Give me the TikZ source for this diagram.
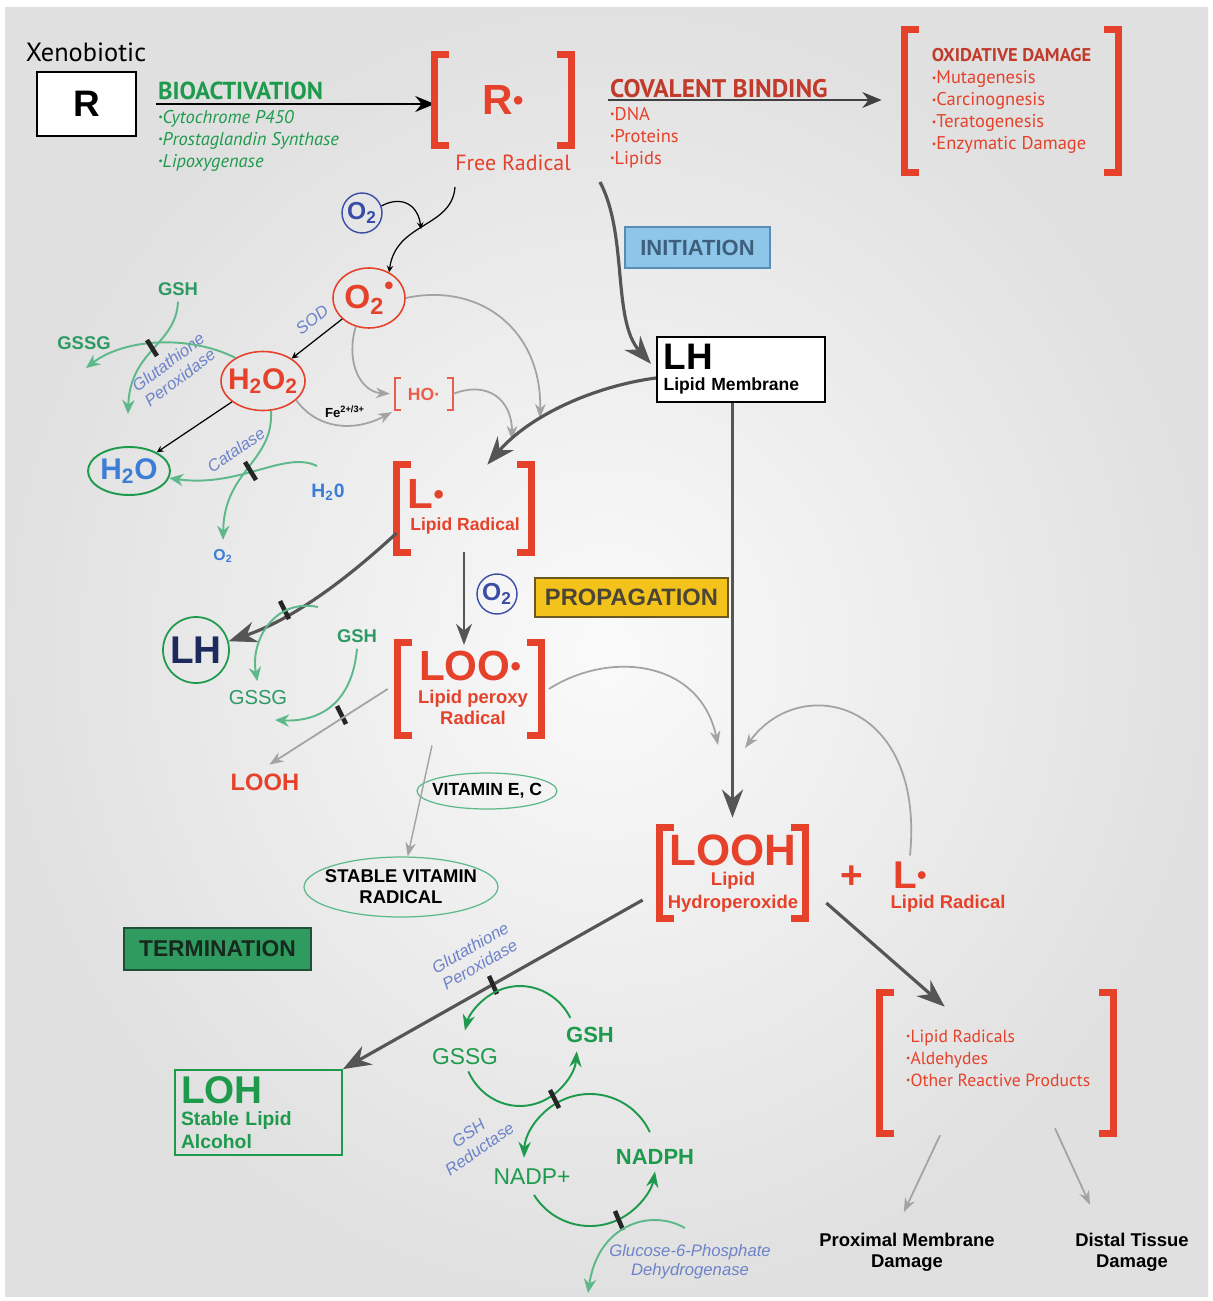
\documentclass[tikz,border=0pt]{standalone}
\usepackage{fontspec}
\usepackage{graphicx}
\setmainfont{Liberation Sans}
\newfontfamily\myr{PT Sans}
\usetikzlibrary{arrows.meta,shapes.geometric,calc}
\definecolor{redc}{HTML}{E5412B}
\definecolor{dredc}{HTML}{C23A2A}
\definecolor{grnc}{HTML}{1E9A4C}
\definecolor{midg}{HTML}{2E9A63}
\definecolor{lgrnc}{HTML}{5DB98A}
\definecolor{bluec}{HTML}{6D83C9}
\definecolor{navyc}{HTML}{3A4CA6}
\definecolor{navyd}{HTML}{1C2A5E}
\definecolor{skyc}{HTML}{3C7DD8}
\definecolor{dgray}{HTML}{555555}
\definecolor{lgray}{HTML}{A3A3A3}
\definecolor{inifill}{HTML}{8EC6EA}
\definecolor{inidraw}{HTML}{5A8DB5}
\definecolor{initext}{HTML}{3E5F7C}
\definecolor{propfill}{HTML}{F3C31C}
\definecolor{propdraw}{HTML}{6B5A20}
\definecolor{proptext}{HTML}{4A4536}
\definecolor{termfill}{HTML}{2F9B5F}
\definecolor{termdraw}{HTML}{1F4F34}
\definecolor{termtext}{HTML}{17291F}
\newcommand\fsz[2]{\fontsize{#1}{#2}\selectfont}
\newcommand\bul{\raisebox{0.25ex}{\scalebox{0.55}{•}}}
\newcommand\rdot{\raisebox{0.2ex}{\scalebox{0.7}{•}}}
% square brackets round a named node
\newcommand\brkt[2][0.28cm]{%
  \draw[brkline] ([xshift=#1]#2.north west) -- (#2.north west) -- (#2.south west) -- ([xshift=#1]#2.south west);
  \draw[brkline] ([xshift=-#1]#2.north east) -- (#2.north east) -- (#2.south east) -- ([xshift=-#1]#2.south east);}
\begin{document}
\begin{tikzpicture}[x=0.02cm,y=-0.02cm,>=stealth,
  brkline/.style={redc,line width=3.8pt},
  brk/.style={inner sep=0pt},
  ell/.style={ellipse,inner sep=0pt},
  enz/.style={bluec,font=\itshape\fsz{9.5}{11},align=center,inner sep=1pt},
  gtxt/.style={midg,font=\bfseries\fsz{10.5}{12}},
  thinarr/.style={->,line width=0.7pt},
  medarr/.style={-{Stealth[length=11pt,width=9pt]},line width=1pt},
  grayarr/.style={-{Stealth[length=8pt,width=6pt]},lgray,line width=1pt},
  bigarr/.style={-{Stealth[length=16pt,width=12pt]},dgray,line width=1.8pt},
  garr/.style={-{Stealth[length=8pt,width=7pt]},lgrnc,line width=1.1pt},
  cyc/.style={-{Stealth[length=9pt,width=7pt]},grnc,line width=1.1pt},
  bar/.style={line width=2.6pt,black!85},
  o2c/.style={circle,draw=navyc,line width=0.8pt,minimum size=0.8cm,inner sep=0pt,navyc,font=\bfseries\fsz{14}{14}}]
\useasboundingbox (0,0) rectangle (1213,1301);
\fill[white] (0,0) rectangle (1213,1301);
\shade[inner color=white!98!black,outer color=black!12] (5,8) rectangle (1208,1296);

% bioactivation
\node[font=\myr\fsz{15}{18}] (xeno) at (86,52) {Xenobiotic};
\node[draw,line width=1.3pt,fill=white,minimum width=1.98cm,minimum height=1.28cm,font=\bfseries\fsz{21}{24}] (R) at (86.5,104) {R};
\node[brk,minimum width=2.72cm,minimum height=1.8cm,redc,font=\bfseries\fsz{24}{28}] (Rrad) at (503,100) {R\rdot};
\node[redc,font=\myr\fsz{12.5}{15}] (frad) at (513,163) {Free Radical};
\node[anchor=south west,grnc,font=\myr\bfseries\fsz{14}{16},inner sep=1pt] (bio) at (156,102) {BIOACTIVATION};
\node[anchor=north west,grnc,font=\myr\itshape\fsz{10.5}{12.5},align=left,inner sep=1pt] (bioL) at (156,108) {\bul Cytochrome P450\\\bul Prostaglandin Synthase\\\bul Lipoxygenase};
\draw[medarr,shorten >=0.38cm] ([xshift=0.38cm]R.east) -- ([xshift=0.38cm]R.east -| Rrad.west);
\brkt{Rrad}

% covalent binding
\node[anchor=south west,dredc,font=\myr\bfseries\fsz{14.5}{16},inner sep=1pt] (cov) at (608,100) {COVALENT BINDING};
\node[anchor=north west,redc,font=\myr\fsz{10.5}{12.5},align=left,inner sep=1pt] (covL) at (608,105) {\bul DNA\\\bul Proteins\\\bul Lipids};
\node[brk,minimum width=4.26cm,minimum height=2.84cm,redc,font=\myr\fsz{10.5}{12.5},align=left] (OxD) at (1011.5,101) {{\bfseries\color{dredc}OXIDATIVE DAMAGE}\\\bul Mutagenesis\\\bul Carcinognesis\\\bul Teratogenesis\\\bul Enzymatic Damage};
\draw[medarr,draw=black!75,shorten >=0.46cm] (cov.south west) -- (cov.south west -| OxD.west);
\brkt{OxD}

% oxygen branch
\node[o2c] (O2a) at (362,213) {O\textsubscript{2}};
\node[ell,draw=redc,line width=0.9pt,minimum width=1.44cm,minimum height=1.2cm,label={[redc,font=\bfseries\fsz{19}{19}]center:O\textsubscript{2}\raisebox{0.8ex}{\fsz{15}{15}•}}] (O2r) at (369,298) {};
\coordinate (spS) at (455,187);
\coordinate (jn) at (421,229);
\draw[thinarr] (spS) .. controls (452,228) and (396,222) .. (O2r.52);
\draw[thinarr] (O2a.20) .. controls (402,195) and (418,205) .. (jn);
\node[enz,rotate=38] (sod) at (312,320) {SOD};
\node[ell,draw=redc,line width=0.9pt,minimum width=1.68cm,minimum height=1.18cm,label={[redc,font=\bfseries\fsz{17}{17}]center:H\textsubscript{2}O\textsubscript{2}}] (H2O2) at (263,381) {};
\draw[thinarr] (O2r) -- (H2O2);
\node[gtxt] (GSH1) at (178,289) {GSH};
\node[gtxt] (GSSG1) at (84,343) {GSSG};
\node[enz,rotate=37] (gpx1) at (174,370) {Glutathione\\Peroxidase};
\coordinate (gpxA) at (86,368);
\coordinate (gpxB) at (128,414);
\draw[garr] (H2O2.140) .. controls (190,335) and (125,338) .. (gpxA);
\draw[garr] (GSH1.south) .. controls (176,345) and (130,350) .. (gpxB);
\draw[bar] (147,340) -- (157,356);
\node[ell,draw=grnc,line width=1.1pt,minimum width=1.64cm,minimum height=0.96cm,label={[skyc,font=\bfseries\fsz{17}{17}]center:H\textsubscript{2}O}] (H2O) at (129,471) {};
\draw[thinarr] (H2O2) -- (H2O);
\node[enz,rotate=35] (cat) at (236,450) {Catalase};
\node[skyc,font=\bfseries\fsz{9}{10}] (O2b) at (223,556) {O\textsubscript{2}};
\node[skyc,font=\bfseries\fsz{11}{13}] (wtr) at (328,492) {H\textsubscript{2}0};
\coordinate (wtrS) at (317,466);
\draw[garr,shorten >=2pt] (H2O2.-75) .. controls (274,462) and (224,470) .. (O2b.north);
\draw[garr] (wtrS) .. controls (285,450) and (240,488) .. (H2O.-10);
\draw[bar] (245,462) -- (256,480);
\node[font=\bfseries\fsz{7.5}{9}] (fe) at (345,412) {Fe\textsuperscript{2+/3+}};
\node[brk,minimum width=1.14cm,minimum height=0.64cm,redc!85,font=\bfseries\fsz{10}{12}] (HO) at (424,394) {HO·};
\begin{scope}[brkline/.style={redc!85,line width=1.3pt}]
\brkt[0.12cm]{HO}
\end{scope}
\draw[grayarr,shorten >=2pt] (H2O2.-30) .. controls (318,430) and (355,432) .. (HO.south west);
\draw[grayarr,shorten >=3pt] (O2r.-115) .. controls (345,365) and (362,392) .. (HO.west);
\coordinate (lA) at (540,418);
\coordinate (lB) at (512,440);
\draw[grayarr] (O2r.east) .. controls (480,282) and (542,330) .. (lA);
\draw[grayarr] (HO.east) .. controls (488,380) and (512,400) .. (lB);

% initiation
\coordinate (iniS) at (600,182);
\node[draw=inidraw,fill=inifill,line width=0.8pt,minimum width=2.9cm,minimum height=0.82cm,text=initext,font=\bfseries\fsz{12.5}{14}] (init) at (697.5,247.5) {INITIATION};
\node[draw,line width=1.2pt,fill=white,text width=3.1cm,inner xsep=0.13cm,minimum height=1.3cm,align=left,font=\bfseries\fsz{10}{12}] (LH) at (741,369.5) {{\fsz{21}{21}LH}\\Lipid Membrane};
\draw[bigarr,shorten >=0.15cm] (iniS) .. controls (628,235) and (612,320) .. (LH.west);

% propagation
\node[brk,minimum width=2.68cm,minimum height=1.74cm] (Lrad) at (464,508.5) {};
\node[redc,font=\bfseries\fsz{24}{24}] (Lt) at (426,494) {L\rdot};
\node[redc,font=\bfseries\fsz{10}{12}] (Ls) at (465,526) {Lipid Radical};
\brkt{Lrad}
\draw[bigarr] ([yshift=-0.17cm]LH.west) .. controls (595,386) and (530,415) .. (Lrad.62);
\node[o2c] (O2c) at (497,594) {O\textsubscript{2}};
\node[draw=propdraw,fill=propfill,line width=0.8pt,minimum width=3.86cm,minimum height=0.78cm,text=proptext,font=\bfseries\fsz{13.5}{15}] (prop) at (631.5,597.5) {PROPAGATION};
\node[brk,minimum width=2.86cm,minimum height=1.84cm] (LOOr) at (469.5,689) {};
\node[redc,font=\bfseries\fsz{24}{24}] (LOOt) at (470,666) {LOO\rdot};
\node[redc,font=\bfseries\fsz{10.5}{12},align=center] (LOOs) at (473,707) {Lipid peroxy\\Radical};
\brkt{LOOr}
\draw[-{Stealth[length=12pt,width=9pt]},dgray,line width=1.3pt] (Lrad.south) -- (Lrad.south |- LOOt.north);

% termination by glutathione
\node[circle,draw=grnc,line width=1pt,minimum size=1.32cm,label={[navyd,font=\bfseries\fsz{22}{22}]center:LH}] (LHc) at (196,650) {};
\draw[bigarr] (Lrad.-160) .. controls (335,590) and (285,622) .. (LHc.15);
\draw[bar] (280,601) -- (289,619);
\node[gtxt] (GSH2) at (357,636) {GSH};
\node[midg,font=\fsz{11.5}{13}] (GSSG2) at (258,698) {GSSG};
\coordinate (gS2) at (318,607);
\coordinate (gT2) at (275,720);
\draw[garr,shorten >=2pt] (gS2) .. controls (275,598) and (250,640) .. (GSSG2.north);
\draw[garr] (GSH2.south) .. controls (352,705) and (318,722) .. (gT2);
\draw[bar] (337,706) -- (346,724);
\node[redc,font=\bfseries\fsz{13.5}{15}] (LOOH2) at (265,782) {LOOH};
\draw[grayarr,shorten >=3pt] ([xshift=-0.2cm]LOOr.west) -- (LOOH2.north);

% vitamins
\node[ell,draw=lgrnc,line width=0.7pt,minimum width=2.8cm,minimum height=0.72cm,label={[font=\bfseries\fsz{10}{12}]center:{VITAMIN E, C}}] (VitEC) at (487,791) {};
\node[ell,draw=lgrnc,line width=0.7pt,minimum width=3.88cm,minimum height=1.2cm,label={[font=\bfseries\fsz{10.5}{12},align=center]center:{STABLE VITAMIN\\RADICAL}}] (SVR) at (401,887) {};
\draw[grayarr,line width=0.8pt] ([xshift=-0.75cm,yshift=-0.2cm]LOOr.south) -- (SVR);
\node[draw=termdraw,fill=termfill,line width=1pt,minimum width=3.74cm,minimum height=0.84cm,text=termtext,font=\bfseries\fsz{13}{15}] (term) at (217.5,949) {TERMINATION};

% hydroperoxide
\node[brk,minimum width=2.9cm,minimum height=1.8cm] (LOOHb) at (732.5,873) {};
\node[redc,font=\bfseries\fsz{25}{25}] (LOOHt) at (733,850) {LOOH};
\node[redc,font=\bfseries\fsz{10.5}{13},align=center] (LOOHs) at (733,892) {Lipid\\Hydroperoxide};
\brkt{LOOHb}
\draw[bigarr,shorten >=0.2cm] (LH.south -| LOOHb.north) -- (LOOHb.north);
\node[redc,font=\bfseries\fsz{22}{22}] (plus) at (852,877) {+};
\node[redc,font=\bfseries\fsz{22}{22}] (Lr2) at (910,875) {L\rdot};
\node[redc,font=\bfseries\fsz{10.5}{12}] (Lr2s) at (948,904) {Lipid Radical};
\coordinate (prA) at (718,745);
\coordinate (prB) at (745,748);
\draw[grayarr] ([xshift=0.15cm]LOOr.east) .. controls (610,650) and (700,660) .. (prA);
\draw[grayarr] (Lr2.north) .. controls (925,700) and (800,672) .. (prB);

% products and damage
\node[brk,minimum width=4.66cm,minimum height=2.8cm] (Prod) at (996.5,1063) {};
\node[redc,anchor=west,font=\myr\fsz{10}{12.5},align=left] (ProdL) at (900,1058) {\bul Lipid Radicals\\\bul Aldehydes\\\bul Other Reactive Products};
\brkt{Prod}
\draw[bigarr] ([xshift=0.42cm,yshift=-0.6cm]LOOHb.east) -- ([xshift=1.3cm,yshift=-0.28cm]Prod.north west);
\node[font=\bfseries\fsz{10.5}{12},align=center] (prox) at (907,1252) {Proximal Membrane\\Damage};
\node[font=\bfseries\fsz{10.5}{12},align=center] (dist) at (1132,1252) {Distal Tissue\\Damage};
\draw[grayarr,shorten >=0.32cm] ([xshift=-1.13cm,yshift=-0.04cm]Prod.south) -- ([xshift=-0.2cm]prox.north);
\draw[grayarr,shorten >=0.48cm] ([xshift=1.17cm,yshift=0.1cm]Prod.south) -- ([xshift=-0.64cm]dist.north);

% stable alcohol and glutathione cycles
\node[draw=grnc,line width=1pt,text width=3.1cm,inner xsep=0.12cm,minimum height=1.7cm,align=left,grnc,font=\bfseries\fsz{11}{13}] (LOH) at (258.5,1112.5) {{\fsz{22}{22}LOH}\\Stable Lipid\\Alcohol};
\draw[bigarr] ([xshift=-0.34cm,yshift=-0.54cm]LOOHb.west) -- (LOH.north east);
\draw[bar] (489,976) -- (497,994);
\node[enz,rotate=30] (gpx2) at (475,956) {Glutathione\\Peroxidase};
\node[grnc,font=\fsz{13}{15}] (GSSG3) at (465,1057) {GSSG};
\node[grnc,font=\bfseries\fsz{12.5}{14}] (GSH3) at (590,1035) {GSH};
\node[grnc,font=\fsz{13}{15}] (nadp) at (532,1177) {NADP+};
\node[grnc,font=\bfseries\fsz{12.5}{14}] (nadph) at (655,1157) {NADPH};
\coordinate (C1) at (520,1046);
\coordinate (C2) at (590,1160);
\draw[cyc] ($(C1)+(-28:57 and 60)$) arc[start angle=-28,end angle=-165,x radius=57,y radius=60];
\draw[cyc] ($(C1)+(155:57 and 60)$) arc[start angle=155,end angle=5,x radius=57,y radius=60];
\draw[cyc] ($(C2)+(-25:66)$) arc[start angle=-25,end angle=-178,radius=66];
\draw[cyc] ($(C2)+(148:66)$) arc[start angle=148,end angle=10,radius=66];
\draw[bar] (550,1090) -- (559,1108);
\draw[bar] (615,1211) -- (623,1230);
\node[enz,rotate=35] (gr) at (474,1141) {GSH\\Reductase};
\coordinate (g6S) at (685,1228);
\coordinate (g6E) at (588,1293);
\draw[garr] (g6S) .. controls (650,1208) and (598,1225) .. (g6E);
\node[enz] (g6pd) at (690,1262) {Glucose-6-Phosphate\\Dehydrogenase};
\end{tikzpicture}
\end{document}
